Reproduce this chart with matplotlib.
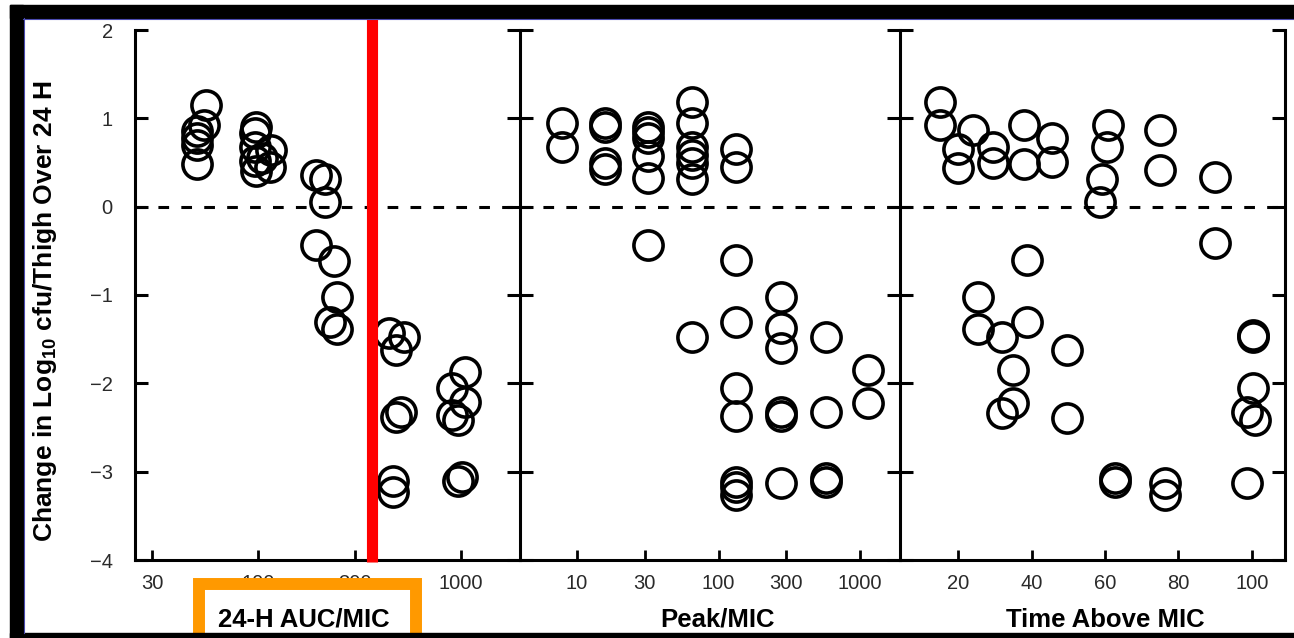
import numpy as np
import matplotlib.pyplot as plt
from matplotlib.patches import Rectangle
from matplotlib.lines import Line2D

plt.rcParams['font.family'] = ['Liberation Sans', 'DejaVu Sans']
plt.rcParams['mathtext.default'] = 'regular'

# 24-h AUC/MIC panel
auc_x = [55, 54, 50, 50, 50, 50,
         98, 97, 96, 96, 98, 116, 114, 105,
         192, 214, 214, 192, 237, 245, 227, 245,
         444, 525, 480, 507, 480, 464, 464,
         1049, 907, 1049, 907, 970, 1014, 970]
auc_y = [1.15, 0.92, 0.86, 0.78, 0.70, 0.48,
         0.90, 0.83, 0.68, 0.52, 0.40, 0.64, 0.45, 0.55,
         0.36, 0.31, 0.05, -0.43, -0.62, -1.02, -1.31, -1.39,
         -1.43, -1.47, -1.62, -2.32, -2.38, -3.11, -3.23,
         -1.87, -2.05, -2.21, -2.36, -2.41, -3.06, -3.11]

# Peak/MIC panel
peak_x = [7.8, 7.8,
          15.8, 15.8, 15.8, 15.8,
          31.8, 31.8, 31.8, 31.8, 31.8, 31.8,
          65, 65, 65, 65, 65, 65, 65,
          133, 133, 133, 133, 133, 133, 133, 133, 133,
          277, 277, 277, 277, 277, 277,
          575, 575, 575, 575,
          1140, 1140]
peak_y = [0.95, 0.68,
          0.95, 0.90, 0.50, 0.43,
          0.90, 0.85, 0.78, 0.57, 0.33, -0.43,
          1.19, 0.95, 0.68, 0.58, 0.50, 0.31, -1.47,
          0.65, 0.45, -0.60, -1.30, -2.05, -2.37, -3.12, -3.17, -3.26,
          -1.02, -1.37, -1.60, -2.33, -2.37, -3.13,
          -1.48, -2.32, -3.07, -3.12,
          -1.85, -2.22]

# Time above MIC panel
time_x = [15, 15, 24, 20, 20, 29.5, 29.5, 38, 38, 45.6, 45.6,
          60.8, 60.5, 59.2, 58.6, 75, 75, 90, 90,
          38.8, 38.8, 25.4, 25.4, 32, 32, 35, 35, 49.7, 49.7,
          62.7, 62.7, 76.3, 76.3, 100.3, 100.3, 100.3, 98.6, 98.6, 100.8]
time_y = [1.18, 0.93, 0.87, 0.65, 0.44, 0.68, 0.50, 0.93, 0.48, 0.78, 0.51,
          0.93, 0.68, 0.31, 0.05, 0.87, 0.42, 0.34, -0.41,
          -0.60, -1.30, -1.02, -1.39, -1.48, -2.34, -1.85, -2.22, -1.62, -2.39,
          -3.07, -3.12, -3.13, -3.26, -1.47, -1.45, -2.05, -2.33, -3.13, -2.41]

y_ticks = [-4, -3, -2, -1, 0, 1, 2]
y_labels = ['\u22124', '\u22123', '\u22122', '\u22121', '0', '1', '2']
auc_ticks = [30, 100, 300, 1000]
peak_ticks = [10, 30, 100, 300, 1000]
time_ticks = [20, 40, 60, 80, 100]
auc_breakpoint = 363

W, H = 1294, 638
fig = plt.figure(figsize=(W / 100, H / 100), dpi=100)
fig.patch.set_facecolor('white')


def box(x0, y0, x1, y1):
    return [x0 / W, 1 - y1 / H, (x1 - x0) / W, (y1 - y0) / H]


ax1 = fig.add_axes(box(135, 30, 520, 560))
ax2 = fig.add_axes(box(520, 30, 900, 560))
ax3 = fig.add_axes(box(900, 30, 1285, 560))

panels = [(ax1, auc_x, auc_y, auc_ticks, 'log', (24.7, 1954)),
          (ax2, peak_x, peak_y, peak_ticks, 'log', (3.95, 1919)),
          (ax3, time_x, time_y, time_ticks, 'linear', (4.2, 109))]

for ax, xs, ys, ticks, scale, lims in panels:
    ax.set_facecolor('none')
    ax.set_xscale(scale)
    ax.plot(xs, ys, 'o', ms=21, mfc='none', mec='black', mew=2.6, zorder=3)
    ax.axhline(0, color='black', lw=2.2, dashes=(3.5, 4), zorder=2)
    ax.set_xlim(*lims)
    ax.set_ylim(-4, 2)
    ax.set_xticks(ticks)
    ax.set_xticklabels([str(t) for t in ticks])
    ax.xaxis.set_minor_locator(plt.NullLocator())
    ax.set_yticks(y_ticks)
    ax.spines['top'].set_visible(False)
    for s in ax.spines.values():
        s.set_linewidth(2.2)
    ax.tick_params(axis='x', direction='in', length=7, width=2,
                   labelsize=14.5, labelcolor='#2a2a2a', pad=10)

ax1.spines['right'].set_visible(False)
ax1.set_yticklabels(y_labels)
ax1.tick_params(axis='y', direction='in', length=9.4, width=2.2,
                labelsize=14.5, labelcolor='#2a2a2a', pad=16)

ax2.tick_params(axis='y', direction='inout', length=18.7, width=2.2,
                left=True, right=True, labelleft=False)

ax3.spines['left'].set_visible(False)
ax3.tick_params(axis='y', direction='in', length=9.4, width=2.2,
                left=False, right=True, labelleft=False)

ax1.set_ylabel('Change in Log$_{10}$ cfu/Thigh Over 24 H',
               fontsize=19, fontweight='bold')
ax1.yaxis.set_label_coords(-0.197, 0.47)

label_kw = dict(ha='center', va='center', fontsize=18.5, fontweight='bold', zorder=6)
ax1.text(0.439, -0.113, '24-H AUC/MIC', transform=ax1.transAxes, **label_kw)
ax2.text(0.521, -0.113, 'Peak/MIC', transform=ax2.transAxes, **label_kw)
ax3.text(0.532, -0.113, 'Time Above MIC', transform=ax3.transAxes, **label_kw)

# annotations: red cut-off line and orange highlight box
ax1.axvline(auc_breakpoint, ymin=-0.004, ymax=1.03, color='#ff0000', lw=8,
            solid_capstyle='butt', clip_on=False, zorder=4)
ax1.add_patch(Rectangle((0.166, -0.170), 0.564, 0.125, transform=ax1.transAxes,
                        fc='white', ec='#ff9900', lw=8.6, clip_on=False, zorder=5))

# black frame of the screenshot
frame_kw = dict(transform=fig.transFigure, color='black', zorder=10)
fig.add_artist(Rectangle((10 / W, 0), 13 / W, 1 - 5 / H, **frame_kw))
fig.add_artist(Rectangle((10 / W, 1 - 18 / H), 1, 13 / H, **frame_kw))
fig.add_artist(Rectangle((10 / W, 0), 1, 5 / H, **frame_kw))
fig.add_artist(Line2D([23 / W, 1], [1 - 18.8 / H] * 2, transform=fig.transFigure,
                      color='#4a4ab0', lw=0.8, zorder=10))
fig.add_artist(Line2D([23.6 / W] * 2, [5 / H, 1 - 18 / H], transform=fig.transFigure,
                      color='#4a4ab0', lw=0.8, zorder=10))

fig.savefig('out.png', dpi=100)
